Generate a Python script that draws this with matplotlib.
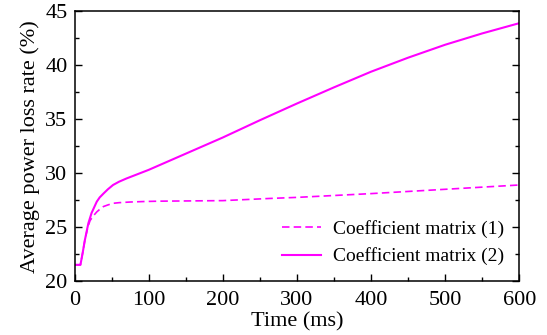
import matplotlib
matplotlib.use("Agg")
import matplotlib.pyplot as plt
from matplotlib.ticker import MultipleLocator

plt.rcParams['font.family'] = ['Liberation Serif', 'DejaVu Serif']
plt.rcParams['mathtext.fontset'] = 'stix'

# Coefficient matrix (1) - dashed
t1 = [0, 8, 11, 14, 18, 21, 25, 30, 35, 39, 45, 52, 60, 75, 95, 115, 150, 200, 263, 300, 400, 500, 600]
v1 = [21.5, 21.5, 22.6, 23.8, 25.0, 25.6, 26.0, 26.4, 26.7, 26.9, 27.05, 27.2, 27.26, 27.32, 27.37, 27.4, 27.42, 27.45, 27.65, 27.75, 28.1, 28.5, 28.9]

# Coefficient matrix (2) - solid
t2 = [0, 8, 11, 14, 18.7, 23, 30, 34, 39, 45, 52, 60, 70, 85, 100, 125, 150, 200, 250, 300, 350, 400, 450, 500, 550, 600]
v2 = [21.5, 21.5, 22.6, 23.8, 25.35, 26.3, 27.35, 27.75, 28.1, 28.5, 28.9, 29.2, 29.5, 29.9, 30.3, 31.05, 31.8, 33.3, 34.9, 36.45, 37.95, 39.4, 40.7, 41.9, 42.95, 43.9]

labels = ['Coefficient matrix (1)', 'Coefficient matrix (2)']
color = '#FF00FF'

fig = plt.figure(figsize=(5.47, 3.35), dpi=100)
ax = fig.add_axes([0.1362, 0.1612, 0.8132, 0.8051])

ax.plot(t1, v1, color=color, lw=1.2, ls=(0, (4.5, 2.5)), label=labels[0])
ax.plot(t2, v2, color=color, lw=1.5, ls='-', label=labels[1])

ax.set_xlim(0, 600)
ax.set_ylim(20, 45)
ax.xaxis.set_major_locator(MultipleLocator(100))
ax.xaxis.set_minor_locator(MultipleLocator(50))
ax.yaxis.set_major_locator(MultipleLocator(5))
ax.yaxis.set_minor_locator(MultipleLocator(2.5))
ax.tick_params(which='both', direction='in', top=False, right=True, labelsize=16, width=1)
ax.tick_params(which='major', length=5)
ax.tick_params(which='minor', length=3)
ax.tick_params(axis='x', which='major', pad=7)
ax.tick_params(axis='y', which='major', pad=5)
for s in ax.spines.values():
    s.set_linewidth(1.1)

ax.set_xlabel('Time (ms)', fontsize=16, labelpad=2)
ax.set_ylabel('Average power loss rate (%)', fontsize=16, labelpad=4)

ax.legend(loc='lower right', frameon=False, fontsize=14, handlelength=2.0,
          handletextpad=0.6, borderaxespad=0.4, labelspacing=0.5)

fig.savefig('out.png', dpi=100)
